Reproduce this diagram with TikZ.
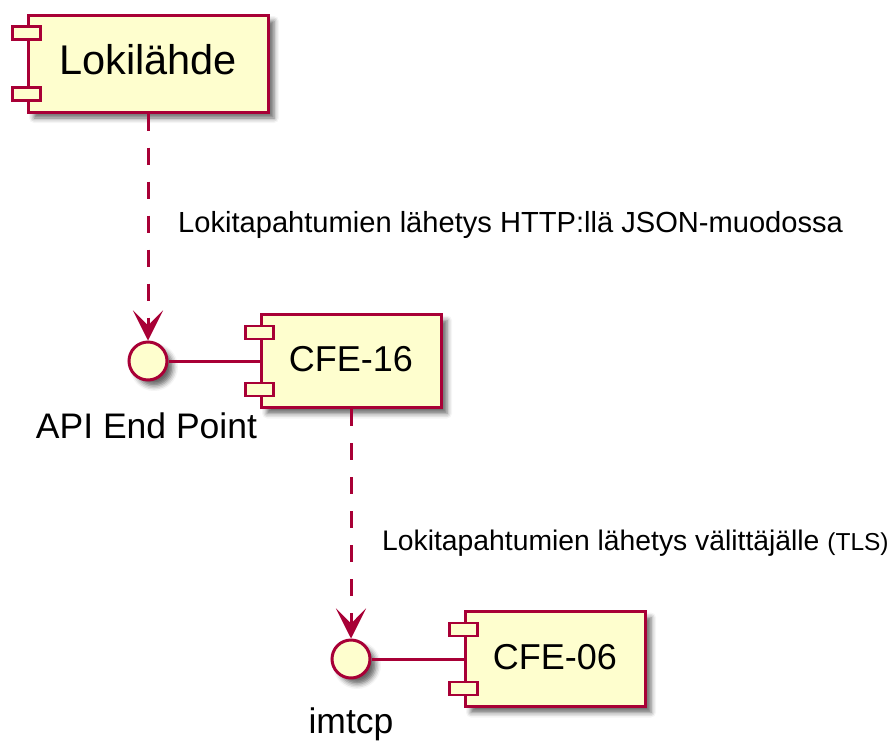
\documentclass[tikz,border=0pt]{standalone}
\usepackage{fontspec}
\setmainfont{Liberation Sans}
\usetikzlibrary{arrows.meta,calc,shadows.blur}
\definecolor{compfill}{HTML}{FEFECE}
\definecolor{compline}{HTML}{A80036}
\tikzset{
  softshadow/.style={blur shadow={shadow xshift=6pt, shadow yshift=-6pt,
      shadow blur radius=5pt, shadow opacity=60}},
  comp/.style={rectangle, draw=compline, fill=compfill, line width=3pt,
      inner sep=0pt, softshadow},
  compfont/.style={font=\fontsize{36}{42}\selectfont, text height=26pt, text depth=6pt},
  port/.style={draw=compline, fill=compfill, line width=2.8pt},
  iface/.style={circle, draw=compline, fill=compfill, line width=3pt,
      minimum size=38pt, inner sep=0pt, softshadow},
  ifacelabel/.style={inner sep=0pt, font=\fontsize{35.5}{42}\selectfont},
  deplabel/.style={inner sep=0pt, font=\fontsize{29.1}{35}\selectfont},
  link/.style={draw=compline, line width=3pt},
  dep/.style={draw=compline, line width=3pt, dash pattern=on 17pt off 17pt,
      -{Stealth[length=30pt, width=30pt, inset=15pt]}}
}
% the two small port tabs on the left edge of a component
\newcommand\compports[1]{%
  \draw[port] ($(#1.north west)+(-14,13)$) rectangle ++(28,13);
  \draw[port] ($(#1.south west)+(-14,-26)$) rectangle ++(28,13);
}
\begin{document}
\begin{tikzpicture}[x=1pt,y=-1pt]
\useasboundingbox (0,0) rectangle (896,742);

% components
\node[comp, minimum width=240pt, minimum height=97pt,
      font=\fontsize{41.5}{48}\selectfont, text height=29pt, text depth=7pt]
      (lok) at (148,63.5) {Lokilähde};
\compports{lok}
\node[comp, compfont, minimum width=180pt, minimum height=93pt]
      (cfe16) at (351,361) {CFE-16};
\compports{cfe16}
\node[comp, compfont, minimum width=180pt, minimum height=95pt]
      (cfe06) at (555,659) {CFE-06};
\compports{cfe06}

% provided interfaces
\node[iface] (api) at (148,361) {};
\node[iface] (imtcp) at (351,659) {};
\node[ifacelabel, anchor=base] (apilbl) at (146.5,438) {API End Point};
\node[ifacelabel, anchor=base] (imtcplbl) at (351,733) {imtcp};

% interface lollipops
\draw[link] (api.east) -- (cfe16.west);
\draw[link] (imtcp.east) -- (cfe06.west);

% dependencies
\draw[dep] (lok.south) -- (api.north);
\draw[dep] (cfe16.south) -- (imtcp.north);
\node[deplabel, anchor=base west] (msg1) at (178,232)
      {Lokitapahtumien lähetys HTTP:llä JSON-muodossa};
\node[deplabel, anchor=base west, font=\fontsize{28.3}{34}\selectfont] (msg2) at (382,550)
      {Lokitapahtumien lähetys välittäjälle {\fontsize{24.5}{30}\selectfont(TLS)}};
\end{tikzpicture}
\end{document}
